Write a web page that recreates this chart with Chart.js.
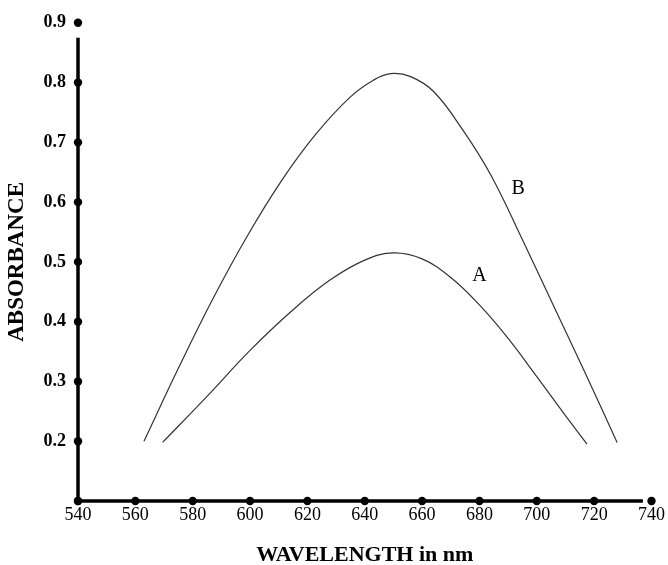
<!DOCTYPE html>
<html>
<head>
<meta charset="utf-8">
<script src="https://cdn.jsdelivr.net/npm/chart.js@4"></script>
<style>
  body { margin: 0; background: #fff; }
  #wrap { width: 668px; height: 565px; }
</style>
</head>
<body>
<div id="wrap"><canvas id="absChart"></canvas></div>
<script>
// Values
const wavelengthA = [569.5, 585, 600, 615, 628, 640, 650, 660, 670, 680, 690, 700, 710, 717.5];
const absorbanceA = [0.198, 0.275, 0.352, 0.42, 0.47, 0.503, 0.515, 0.505, 0.474, 0.428, 0.372, 0.308, 0.243, 0.195];
const wavelengthB = [563, 575, 587, 599, 611, 623, 635, 643, 649, 656, 664, 674, 684, 695, 706, 717, 728];
const absorbanceB = [0.2, 0.322, 0.438, 0.543, 0.636, 0.714, 0.776, 0.804, 0.815, 0.81, 0.785, 0.722, 0.645, 0.537, 0.425, 0.313, 0.198];
const curveLabels = [
  { text: 'A', x: 680, y: 0.477 },
  { text: 'B', x: 693.5, y: 0.622 }
];

const toPoints = (xs, ys) => xs.map((x, i) => ({ x: x, y: ys[i] }));

// axes with round dots at every tick
const axisDots = {
  id: 'axisDots',
  afterDraw(chart) {
    const c = chart.ctx;
    const xs = chart.scales.x, ys = chart.scales.y;
    const x0 = xs.getPixelForValue(540), y0 = ys.getPixelForValue(0.1);
    c.save();
    c.strokeStyle = '#000';
    c.lineWidth = 3.5;
    c.beginPath();
    c.moveTo(x0, y0);
    c.lineTo(x0, ys.getPixelForValue(0.875));
    c.moveTo(x0, y0);
    c.lineTo(xs.getPixelForValue(737), y0);
    c.stroke();
    c.fillStyle = '#000';
    xs.ticks.forEach(t => {
      c.beginPath();
      c.arc(xs.getPixelForValue(t.value), y0, 4.2, 0, Math.PI * 2);
      c.fill();
    });
    ys.ticks.forEach(t => {
      c.beginPath();
      c.arc(x0, ys.getPixelForValue(t.value), 4.2, 0, Math.PI * 2);
      c.fill();
    });
    // curve names
    c.font = '20px "Liberation Serif"';
    c.textAlign = 'center';
    c.textBaseline = 'middle';
    curveLabels.forEach(l => {
      c.fillText(l.text, xs.getPixelForValue(l.x), ys.getPixelForValue(l.y));
    });
    c.restore();
  }
};

const ctx = document.getElementById('absChart').getContext('2d');
const absChart = new Chart(ctx, {
  type: 'scatter',
  data: {
    datasets: [{
      label: 'A',
      data: toPoints(wavelengthA, absorbanceA),
      showLine: true,
      borderColor: '#333',
      borderWidth: 1.2,
      pointRadius: 0,
      tension: 0.4
    }, {
      label: 'B',
      data: toPoints(wavelengthB, absorbanceB),
      showLine: true,
      borderColor: '#333',
      borderWidth: 1.2,
      pointRadius: 0,
      tension: 0.4
    }]
  },
  options: {
    responsive: true,
    maintainAspectRatio: false,
    animation: false,
    layout: { padding: { top: 22, right: 16, left: 0, bottom: 0 } },
    plugins: {
      legend: { display: false },
      tooltip: { enabled: false }
    },
    scales: {
      x: {
        type: 'linear',
        min: 540,
        max: 740,
        grid: { display: false, drawTicks: false },
        border: { display: false },
        ticks: {
          stepSize: 20,
          padding: 3,
          color: '#000',
          font: { family: '"Liberation Serif"', size: 18 }
        },
        title: {
          display: true,
          text: 'WAVELENGTH in nm',
          color: '#000',
          font: { family: '"Liberation Serif"', size: 22, weight: 'bold', lineHeight: 0.9 },
          padding: { top: 0, bottom: 0 }
        },
        afterFit(scale) { scale.height = 64; }
      },
      y: {
        min: 0.1,
        max: 0.9,
        grid: { display: false, drawTicks: false },
        border: { display: false },
        ticks: {
          stepSize: 0.1,
          padding: 12,
          color: '#000',
          font: { family: '"Liberation Serif"', size: 18, weight: 'bold' },
          callback: v => (Math.abs(v - 0.1) < 1e-6 ? '' : v.toFixed(1))
        },
        title: {
          display: true,
          text: 'ABSORBANCE',
          color: '#000',
          font: { family: '"Liberation Serif"', size: 23, weight: 'bold', lineHeight: 0.9 },
          padding: { top: 7, bottom: 0 }
        },
        afterFit(scale) { scale.width = 78; }
      }
    }
  },
  plugins: [axisDots]
});
</script>
</body>
</html>
